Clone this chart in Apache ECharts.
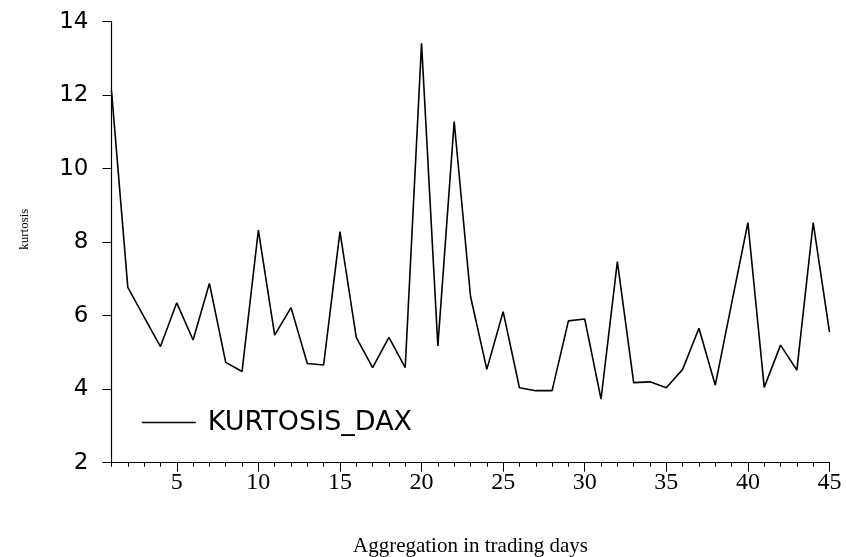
<!DOCTYPE html>
<html>
<head>
<meta charset="utf-8">
<script src="https://cdn.jsdelivr.net/npm/echarts@6/dist/echarts.min.js"></script>
<style>
  html, body { margin: 0; padding: 0; background: #fff; }
  #chart { width: 846px; height: 557px; }
</style>
</head>
<body>
<div id="chart"></div>
<script>
  // aggregation horizon (trading days) and kurtosis of DAX returns
  const days = [];
  for (let d = 1; d <= 45; d++) days.push(d);
  const kurtosis = [
    12.12, 6.77, 5.96, 5.16, 6.35, 5.34, 6.88, 4.73, 4.48, 8.33,
    5.47, 6.22, 4.70, 4.66, 8.29, 5.41, 4.59, 5.41, 4.59, 13.41,
    5.18, 11.28, 6.53, 4.54, 6.11, 4.04, 3.96, 3.96, 5.86, 5.91,
    3.73, 7.47, 4.18, 4.20, 4.04, 4.54, 5.66, 4.11, 6.33, 8.53,
    4.05, 5.20, 4.52, 8.53, 5.55
  ];
  const xMajorTicks = [5, 10, 15, 20, 25, 30, 35, 40, 45];
  const seriesName = 'KURTOSIS_DAX';

  const points = days.map((d, i) => [d, kurtosis[i]]);

  const chart = echarts.init(document.getElementById('chart'));
  chart.setOption({
    animation: false,
    backgroundColor: '#fff',
    grid: {
      left: 111.5, right: 16.5, top: 21.7, bottom: 94.3,
      outerBoundsMode: 'none'
    },
    legend: {
      data: [seriesName],
      left: 141,
      top: 409,
      padding: 0,
      itemWidth: 54,
      itemHeight: 30,
      itemStyle: { opacity: 0 },
      lineStyle: { color: '#000', width: 1.6 },
      textStyle: {
        fontFamily: 'DejaVu Sans',
        fontSize: 27,
        color: '#000',
        padding: [0, 0, 0, 7]
      }
    },
    xAxis: [
      {
        type: 'value',
        min: 1,
        max: 45,
        interval: 1,
        name: 'Aggregation in trading days',
        nameLocation: 'middle',
        nameGap: 73,
        nameTextStyle: { fontFamily: 'Liberation Serif', fontSize: 21, color: '#000' },
        splitLine: { show: false },
        axisLine: { lineStyle: { color: '#000', width: 1.2 } },
        axisTick: { length: 4, lineStyle: { color: '#000' } },
        axisLabel: {
          customValues: xMajorTicks,
          margin: 8,
          fontFamily: 'Liberation Serif',
          fontSize: 24,
          color: '#000'
        }
      },
      {
        type: 'value',
        min: 1,
        max: 45,
        position: 'bottom',
        splitLine: { show: false },
        axisLine: { show: false },
        axisTick: { customValues: xMajorTicks, length: 9, lineStyle: { color: '#000' } },
        axisLabel: { show: false }
      }
    ],
    yAxis: {
      type: 'value',
      min: 2,
      max: 14,
      interval: 2,
      name: 'kurtosis',
      nameLocation: 'middle',
      nameRotate: 90,
      nameGap: 80,
      nameTextStyle: {
        fontFamily: 'Liberation Serif',
        fontSize: 13,
        color: '#000',
        padding: [0, 0, 0, 26]
      },
      splitLine: { show: false },
      axisLine: { show: true, lineStyle: { color: '#000', width: 1.2 } },
      axisTick: { show: true, length: 9, lineStyle: { color: '#000' } },
      axisLabel: {
        margin: 23,
        fontFamily: 'DejaVu Sans',
        fontSize: 23,
        color: '#000'
      }
    },
    series: [
      {
        name: seriesName,
        type: 'line',
        data: points,
        symbol: 'none',
        color: '#000',
        lineStyle: { color: '#000', width: 1.6 }
      }
    ]
  });
</script>
</body>
</html>
